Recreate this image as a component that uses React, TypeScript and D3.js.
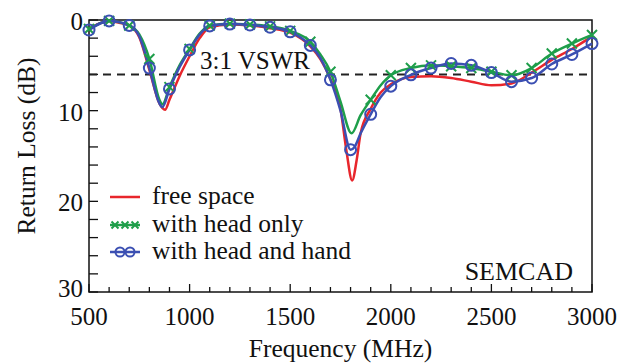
import * as d3 from "d3";

// frequency (MHz) / return loss (dB)
const freeFreq = [500, 550, 600, 650, 700, 750, 800, 850, 878, 900, 950, 1000, 1050, 1100, 1200, 1300, 1400, 1500, 1600, 1650, 1700, 1750, 1780, 1808, 1830, 1850, 1900, 1950, 2000, 2100, 2200, 2300, 2400, 2500, 2600, 2700, 2800, 2900, 3000];
const freeLoss = [1.0, 0.4, 0.1, 0.3, 0.6, 1.9, 5.5, 9.2, 9.9, 8.8, 6.2, 4.0, 2.0, 0.8, 0.5, 0.6, 0.9, 1.4, 2.9, 4.3, 6.5, 9.8, 14.5, 17.7, 15.5, 12.5, 9.8, 8.0, 7.1, 6.3, 6.2, 6.4, 6.8, 7.2, 7.0, 5.8, 4.4, 3.2, 1.8];

const headFreq = [500, 600, 700, 750, 800, 850, 865, 900, 950, 1000, 1050, 1100, 1200, 1300, 1400, 1500, 1600, 1650, 1700, 1750, 1805, 1850, 1900, 1950, 2000, 2100, 2200, 2300, 2400, 2500, 2600, 2700, 2800, 2900, 3000];
const headLoss = [1.0, 0.1, 0.6, 1.6, 4.3, 8.8, 9.3, 7.4, 5.0, 3.2, 1.5, 0.6, 0.4, 0.5, 0.7, 1.2, 2.4, 3.8, 5.7, 9.0, 12.5, 10.5, 8.8, 7.2, 6.1, 5.3, 5.0, 5.1, 5.3, 5.7, 6.1, 5.3, 3.7, 2.6, 1.65];

const handFreq = [500, 600, 700, 750, 800, 850, 865, 900, 950, 1000, 1050, 1100, 1200, 1300, 1400, 1500, 1600, 1650, 1700, 1750, 1800, 1820, 1850, 1900, 1950, 2000, 2100, 2200, 2300, 2400, 2500, 2600, 2700, 2800, 2900, 3000];
const handLoss = [1.1, 0.1, 0.6, 1.8, 5.3, 9.2, 9.6, 7.6, 5.2, 3.3, 1.6, 0.65, 0.45, 0.55, 0.8, 1.3, 2.8, 4.2, 6.6, 10.0, 14.3, 14.0, 12.5, 10.4, 8.5, 7.3, 6.05, 5.3, 4.8, 5.0, 5.8, 6.8, 6.4, 4.85, 3.8, 2.6];

const xTicks = [500, 1000, 1500, 2000, 2500, 3000];
const yTicks = [0, 10, 20, 30];
const vswrLevel = 6;

const W = 623;
const H = 364;
const m = { left: 89, right: 31, top: 20, bottom: 72 };
const FONT = "'Liberation Serif', 'Times New Roman', serif";

const RED = "#e8262c";
const GREEN = "#1e9e4a";
const BLUE = "#3b4fb2";

export default function App() {
    const x = d3.scaleLinear().domain([500, 3000]).range([m.left, W - m.right]);
    const y = d3.scaleLinear().domain([0, 30]).range([m.top, H - m.bottom]);

    const line = d3
        .line<[number, number]>()
        .x((d) => x(d[0]))
        .y((d) => y(d[1]))
        .curve(d3.curveMonotoneX);

    const zip = (f: number[], v: number[]) => f.map((ff, i) => [ff, v[i]] as [number, number]);
    const free = zip(freeFreq, freeLoss);
    const head = zip(headFreq, headLoss);
    const hand = zip(handFreq, handLoss);

    const minorX = d3.range(500, 3001, 100);
    const minorY = d3.range(0, 31, 2);

    const cross = (cx: number, cy: number, r: number, key: string) => (
        <path key={key} d={`M${cx - r},${cy - r}L${cx + r},${cy + r}M${cx - r},${cy + r}L${cx + r},${cy - r}`} stroke={GREEN} strokeWidth={2} fill="none" />
    );

    return (
        <svg width={W} height={H} style={{ position: "absolute", left: 0, top: 0, background: "#fff" }} fontFamily={FONT}>
            {/* ticks */}
            {minorX.map((f) => (
                <line key={"tx" + f} x1={x(f)} x2={x(f)} y1={y(30)} y2={y(30) - (f % 500 === 0 ? 8 : 5)} stroke="#111" strokeWidth={1.3} />
            ))}
            {minorY.map((v) => (
                <line key={"ty" + v} x1={x(500)} x2={x(500) + 9} y1={y(v)} y2={y(v)} stroke="#111" strokeWidth={1.3} />
            ))}

            {/* 3:1 VSWR */}
            <line x1={x(500)} x2={x(3000)} y1={y(vswrLevel)} y2={y(vswrLevel)} stroke="#222" strokeWidth={2} strokeDasharray="8,6" />
            <text x={200} y={69} fontSize={25} fill="#111">3:1 VSWR</text>

            <rect x={x(500)} y={y(0)} width={x(3000) - x(500)} height={y(30) - y(0)} fill="none" stroke="#111" strokeWidth={1.5} />

            <g>
                <path d={line(free) ?? ""} fill="none" stroke={RED} strokeWidth={2.5} />
                <path d={line(head) ?? ""} fill="none" stroke={GREEN} strokeWidth={2.5} />
                <path d={line(hand) ?? ""} fill="none" stroke={BLUE} strokeWidth={2.5} />
                {head.filter((d) => d[0] % 100 === 0).map((d) => cross(x(d[0]), y(d[1]), 5, "hx" + d[0]))}
                {hand.filter((d) => d[0] % 100 === 0).map((d) => (
                    <circle key={"hc" + d[0]} cx={x(d[0])} cy={y(d[1])} r={5.5} fill="none" stroke={BLUE} strokeWidth={2} />
                ))}
            </g>

            {/* tick labels */}
            {xTicks.map((f) => (
                <text key={"lx" + f} x={x(f)} y={325} fontSize={25} textAnchor="middle" fill="#111">{f}</text>
            ))}
            {yTicks.map((v) => (
                <text key={"ly" + v} x={83} y={v === 30 ? y(v) + 5 : y(v) + 10} fontSize={25} textAnchor="end" fill="#111">{v}</text>
            ))}

            <text x={x(1750)} y={357} fontSize={25.5} textAnchor="middle" fill="#111">Frequency (MHz)</text>
            <text transform={`translate(35,${146}) rotate(-90)`} fontSize={25.5} textAnchor="middle" fill="#111">Return Loss (dB)</text>

            {/* legend */}
            <line x1={110} x2={140} y1={197} y2={197} stroke={RED} strokeWidth={2.5} />
            <line x1={110} x2={140} y1={225} y2={225} stroke={GREEN} strokeWidth={2.5} />
            {[115, 125, 135].map((cx) => cross(cx, 225, 3.5, "lg" + cx))}
            <line x1={110} x2={140} y1={252} y2={252} stroke={BLUE} strokeWidth={2.5} />
            {[120, 130].map((cx) => (
                <circle key={"lc" + cx} cx={cx} cy={252} r={4.5} fill="none" stroke={BLUE} strokeWidth={2} />
            ))}
            <text x={152} y={204} fontSize={25.5} fill="#111">free space</text>
            <text x={152} y={232} fontSize={25.5} fill="#111">with head only</text>
            <text x={152} y={259} fontSize={25.5} fill="#111">with head and hand</text>

            <text x={573} y={280} fontSize={26} textAnchor="end" fill="#111">SEMCAD</text>
        </svg>
    );
}
